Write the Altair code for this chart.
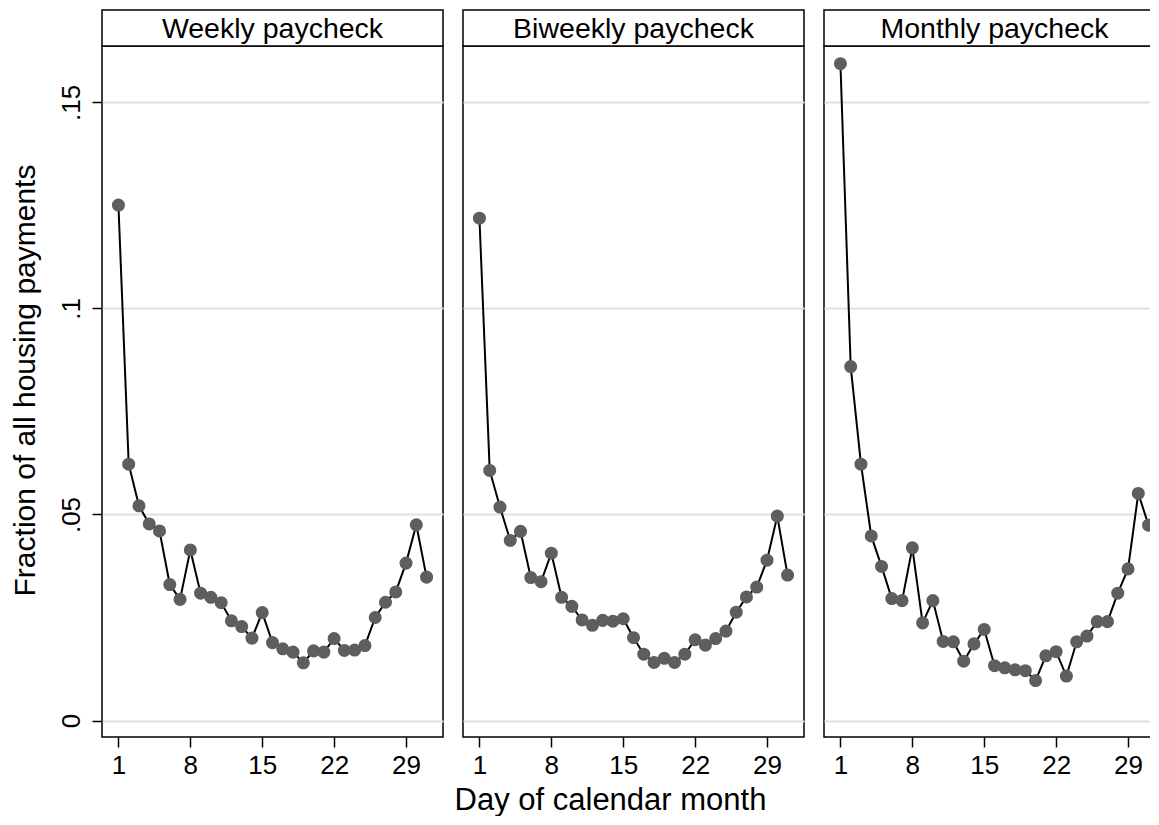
import altair as alt
import pandas as pd

days = list(range(1, 32))

weekly = [0.1251, 0.0622, 0.0521, 0.0477, 0.0460, 0.0330, 0.0294, 0.0414, 0.0309, 0.0299,
          0.0286, 0.0242, 0.0228, 0.0200, 0.0262, 0.0189, 0.0174, 0.0166, 0.0140, 0.0169,
          0.0166, 0.0199, 0.0170, 0.0171, 0.0182, 0.0250, 0.0287, 0.0312, 0.0382, 0.0475,
          0.0348]
biweekly = [0.1219, 0.0607, 0.0518, 0.0437, 0.0459, 0.0347, 0.0337, 0.0406, 0.0299, 0.0277,
            0.0244, 0.0231, 0.0243, 0.0241, 0.0247, 0.0201, 0.0161, 0.0141, 0.0151, 0.0141,
            0.0161, 0.0196, 0.0183, 0.0199, 0.0217, 0.0263, 0.0300, 0.0324, 0.0389, 0.0496,
            0.0353]
monthly = [0.1594, 0.0859, 0.0622, 0.0448, 0.0374, 0.0296, 0.0291, 0.0419, 0.0237, 0.0291,
           0.0192, 0.0191, 0.0144, 0.0186, 0.0221, 0.0133, 0.0128, 0.0123, 0.0121, 0.0097,
           0.0157, 0.0167, 0.0108, 0.0191, 0.0205, 0.0240, 0.0240, 0.0309, 0.0368, 0.0551,
           0.0474]

panel_titles = ["Weekly paycheck", "Biweekly paycheck", "Monthly paycheck"]
x_ticks = [1, 8, 15, 22, 29]
y_ticks = [0, 0.05, 0.1, 0.15]

FONT = "Liberation Sans"
W, H, HH = 341, 691, 36


def panel(title, values, first, middle):
    df = pd.DataFrame({"day": days, "frac": values})
    xa = dict(values=x_ticks, grid=False, domain=False, ticks=True, tickSize=10,
              tickWidth=1.5, tickColor="black", labelFontSize=26, labelFont=FONT,
              labelColor="black", labelPadding=5)
    if middle:
        xa.update(titleFontSize=31, titleFont=FONT, titleFontWeight="normal",
                  titleColor="black", titlePadding=7, titleX=147, titleAlign="center")
    x_axis = alt.Axis(**xa)
    if first:
        y_axis = alt.Axis(values=y_ticks, grid=True, gridColor="#e0e0e0", gridWidth=2,
                          domain=False, ticks=True, tickSize=10, tickWidth=1.5,
                          tickColor="black", labelFontSize=26, labelFont=FONT,
                          labelColor="black", labelAngle=270, labelAlign="center",
                          labelBaseline="bottom", labelPadding=8,
                          labelExpr="datum.value == 0 ? '0' : substring(format(datum.value, '.2~f'), 1)",
                          titleFontSize=30, titleFont=FONT, titleFontWeight="normal",
                          titleColor="black", titlePadding=18, titleY=334,
                          titleAlign="center")
        ytitle = "Fraction of all housing payments"
    else:
        y_axis = alt.Axis(values=y_ticks, grid=True, gridColor="#e0e0e0", gridWidth=2,
                          domain=False, ticks=False, labels=False)
        ytitle = None
    xtitle = "Day of calendar month" if middle else None
    base = alt.Chart(df).encode(
        x=alt.X("day:Q", scale=alt.Scale(domain=[-0.6, 32.6], nice=False, zero=False),
                axis=x_axis, title=xtitle),
        y=alt.Y("frac:Q", scale=alt.Scale(domain=[-0.0040, 0.1637], nice=False, zero=False),
                axis=y_axis, title=ytitle),
    )
    line = base.mark_line(color="black", strokeWidth=2)
    pts = base.mark_circle(size=170, color="#5e5e5e", opacity=1)

    hbase = alt.Chart(pd.DataFrame({"t": [title]}))
    hbox = hbase.mark_rect(fill="white", stroke="black", strokeWidth=1.5).encode(
        x=alt.value(0), x2=alt.value(W), y=alt.value(-HH), y2=alt.value(0)
    )
    htext = hbase.mark_text(fontSize=28.5, font=FONT, color="black", baseline="middle",
                            align="center").encode(
        text="t:N", x=alt.value(W / 2), y=alt.value(-HH / 2 + 1)
    )
    return alt.layer(hbox, htext, line, pts).properties(width=W, height=H)


chart = alt.hconcat(
    panel(panel_titles[0], weekly, True, False),
    panel(panel_titles[1], biweekly, False, True),
    panel(panel_titles[2], monthly, False, False),
    spacing=20,
    bounds="flush",
).properties(
    padding={"left": 1, "top": 0, "right": -17, "bottom": 0},
    background="white",
).configure_view(stroke="black", strokeWidth=1.5)

chart.save("out.html", embed_options={"renderer": "svg", "actions": False})
